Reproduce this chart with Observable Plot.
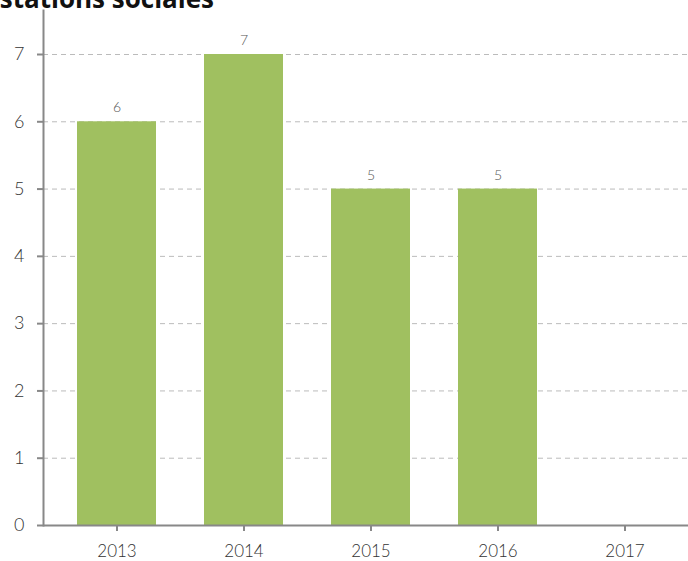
<!DOCTYPE html>
<html>
<head>
<meta charset="utf-8">
<script src="https://cdn.jsdelivr.net/npm/d3@7"></script>
<script src="https://cdn.jsdelivr.net/npm/@observablehq/plot@0.6"></script>
<style>
  body { margin: 0; background: #fff; font-family: "Open Sans", sans-serif; }
  #wrap { position: relative; width: 688px; height: 561px; overflow: hidden; }
  #title { position: absolute; right: 474px; top: -15px; line-height: 26px; font-size: 26px; font-weight: 700; color: #111; white-space: nowrap; z-index: 2; }
</style>
</head>
<body>
<div id="wrap"><div id="title">Prestations sociales</div></div>
<script>
const years = ["2013", "2014", "2015", "2016", "2017"];
const values = [6, 7, 5, 5, 0];
const yTicks = [0, 1, 2, 3, 4, 5, 6, 7];

const data = years.map((y, i) => ({year: y, value: values[i]}));

const chart = Plot.plot({
  width: 688,
  height: 561,
  marginLeft: 43,
  marginRight: 0,
  marginTop: 10,
  marginBottom: 36,
  style: {fontFamily: "Lato, 'Open Sans', sans-serif", fontWeight: 300, color: "#333", background: "#fff"},
  x: {domain: years, range: [51, 689], paddingInner: 0.38, paddingOuter: 0.19, label: null},
  y: {domain: [0, 7.654], label: null},
  marks: [
    Plot.gridY(yTicks, {stroke: "#bbb", strokeOpacity: 1, strokeDasharray: "5,4"}),
    Plot.barY(data.filter(d => d.value > 0), {x: "year", y: "value", fill: "#a0c060"}),
    Plot.text(data.filter(d => d.value > 0), {x: "year", y: "value", text: d => String(d.value), dy: -14, fontSize: 14, fill: "#555"}),
    Plot.ruleY([0], {stroke: "#888", strokeWidth: 2}),
    Plot.frame({anchor: "left", stroke: "#888", strokeWidth: 2}),
    Plot.axisY(yTicks, {tickSize: 6, tickPadding: 13, fontSize: 18, stroke: "#888", strokeWidth: 2, fill: "#333", tickFormat: d => String(d)}),
    Plot.axisX({tickSize: 6, tickPadding: 13, fontSize: 17, stroke: "#888", strokeWidth: 2, fill: "#333"})
  ]
});
document.getElementById("wrap").appendChild(chart);
</script>
</body>
</html>
